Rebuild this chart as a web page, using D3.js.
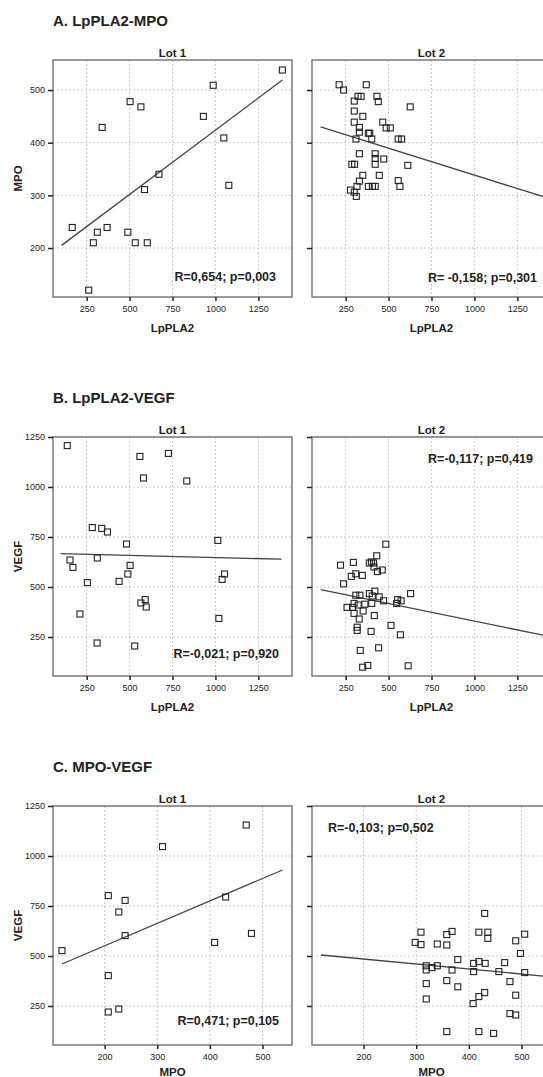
<!DOCTYPE html>
<html>
<head>
<meta charset="utf-8">
<script src="https://cdn.jsdelivr.net/npm/d3@7"></script>
<style>
body { margin: 0; background: #fff; }
svg text { font-family: "Liberation Sans", Arial, sans-serif; fill: #222; }
</style>
</head>
<body>
<script>
var g_width = 543
var g_height = 1077

// tick labels
var lpTicks = [250, 500, 750, 1000, 1250]
var mpoTicks = [200, 300, 400, 500]
var vegfTicks = [250, 500, 750, 1000, 1250]

// axis ranges
var lpRange = [54, 1446]
var mpoRangeY = [107, 557]
var mpoRangeX = [102, 556]
var vegfRange = [55, 1250]

var panelTitles = ["A. LpPLA2-MPO", "B. LpPLA2-VEGF", "C. MPO-VEGF"]
var lotNames = ["Lot 1", "Lot 2"]
var xTitles = ["LpPLA2", "LpPLA2", "MPO"]
var yTitles = ["MPO", "VEGF", "VEGF"]

var statsA = ["R=0,654; p=0,003", "R= -0,158; p=0,301"]
var statsB = ["R=-0,021; p=0,920", "R=-0,117; p=0,419"]
var statsC = ["R=0,471; p=0,105", "R=-0,103; p=0,502"]

// A: LpPLA2 (x) vs MPO (y)
var a1 = [[166,239],[289,210],[312,230],[369,239],[340,429],[503,478],[566,468],[490,230],
          [533,210],[603,210],[587,311],[671,340],[930,450],[987,509],[1049,409],[1078,319],
          [262,120],[1390,538]]
var a2 = [[212,510],[238,500],[370,510],[322,488],[340,488],[300,479],[432,488],[440,478],
          [626,468],[300,460],[350,450],[300,439],[330,429],[466,439],[486,428],[510,428],
          [330,420],[382,418],[390,418],[310,407],[402,407],[556,407],[576,407],[330,379],
          [422,379],[422,370],[472,369],[422,359],[286,359],[302,359],[612,357],[350,338],
          [446,338],[330,327],[556,328],[316,317],[566,317],[382,317],[406,317],[422,317],
          [278,310],[300,306],[312,298]]

// B: LpPLA2 (x) vs VEGF (y)
var b1 = [[137,1207],[153,635],[170,598],[254,522],[211,365],[283,797],[338,793],[371,775],
          [312,645],[482,715],[503,608],[490,565],[439,528],[560,1153],[581,1045],[726,1168],
          [833,1030],[566,420],[591,437],[597,400],[1014,733],[1053,565],[1039,538],[1020,343],
          [311,220],[530,205]]
var b2 = [[484,714],[431,656],[220,609],[295,623],[388,620],[412,620],[400,625],[415,600],
          [435,577],[463,585],[283,553],[309,566],[347,558],[238,516],[309,459],[333,459],
          [388,467],[420,479],[405,455],[445,451],[471,431],[553,437],[573,431],[547,418],
          [628,467],[299,418],[258,398],[290,398],[323,410],[362,414],[402,418],[352,380],
          [299,368],[329,340],[417,357],[514,308],[317,299],[317,283],[398,278],[569,261],
          [335,183],[442,196],[349,99],[379,108],[614,106]]

// C: MPO (x) vs VEGF (y)
var c1 = [[119,527],[207,802],[239,778],[227,720],[239,602],[207,402],[207,220],[227,235],
          [310,1047],[469,1155],[430,795],[409,568],[479,613]]
var c2 = [[430,713],[309,619],[358,607],[368,623],[419,619],[436,619],[436,588],[506,609],
          [489,576],[298,568],[309,557],[340,560],[358,555],[498,513],[379,482],[409,463],
          [419,472],[431,463],[468,467],[319,451],[319,430],[330,442],[340,451],[368,430],
          [409,422],[457,422],[506,417],[319,362],[358,377],[379,346],[478,372],[489,304],
          [430,317],[419,297],[319,285],[358,122],[419,122],[447,113],[408,262],[489,205],
          [478,212]]

// fit lines, end points in data units
var fitA = [[[104,205],[1390,519]], [[104,430],[1446,293]]]
var fitB = [[[98,667],[1385,639]], [[105,487],[1446,251]]]
var fitC = [[[119,460],[538,930]], [[119,505],[556,396]]]

var svg = d3.select("body").append("svg")
    .attr("width", g_width)
    .attr("height", g_height)
    .style("background-color", "white");

var lotX = [53, 312]
var plotW = 239

// layout of each panel row
var panels = [
  { top: 60, h: 237, titleY: 26, xTitleDy: 35, xDom: lpRange, yDom: mpoRangeY, xTicks: lpTicks, yTicks: mpoTicks,
    lots: [a1, a2], fits: fitA, stats: statsA,
    statPos: [{anchor: "end", dx: 223, fromBottom: true, dy: 16}, {anchor: "end", dx: 225, fromBottom: true, dy: 15}] },
  { top: 437, h: 239, titleY: 403, xTitleDy: 35, xDom: lpRange, yDom: vegfRange, xTicks: lpTicks, yTicks: vegfTicks,
    lots: [b1, b2], fits: fitB, stats: statsB,
    statPos: [{anchor: "end", dx: 226, fromBottom: true, dy: 18}, {anchor: "end", dx: 221, fromBottom: false, dy: 26}] },
  { top: 806, h: 239, titleY: 772, xTitleDy: 31, xDom: mpoRangeX, yDom: vegfRange, xTicks: mpoTicks, yTicks: vegfTicks,
    lots: [c1, c2], fits: fitC, stats: statsC,
    statPos: [{anchor: "end", dx: 226, fromBottom: true, dy: 20}, {anchor: "start", dx: 16, fromBottom: false, dy: 26}] }
]

panels.forEach(function(p, pi) {
    svg.append("text")
        .attr("x", 53).attr("y", p.titleY)
        .style("font-size", "15px").style("font-weight", "bold")
        .text(panelTitles[pi]);

    var bottom = p.top + p.h;
    var yScale = d3.scaleLinear().domain(p.yDom).range([bottom, p.top]);

    for (var li = 0; li < 2; li++) {
        var left = lotX[li];
        var xScale = d3.scaleLinear().domain(p.xDom).range([left, left + plotW]);
        var g = svg.append("g");

        var clipId = "clip" + pi + "_" + li;
        svg.append("clipPath").attr("id", clipId)
            .append("rect").attr("x", left).attr("y", p.top).attr("width", plotW).attr("height", p.h);

        // grid
        g.selectAll(".gx").data(p.xTicks).enter().append("line")
            .attr("x1", function(d) { return xScale(d); }).attr("x2", function(d) { return xScale(d); })
            .attr("y1", p.top).attr("y2", bottom)
            .attr("stroke", "#c9c9c9").attr("stroke-dasharray", "2,2").attr("stroke-width", 1);
        g.selectAll(".gy").data(p.yTicks).enter().append("line")
            .attr("y1", function(d) { return yScale(d); }).attr("y2", function(d) { return yScale(d); })
            .attr("x1", left).attr("x2", left + plotW)
            .attr("stroke", "#c9c9c9").attr("stroke-dasharray", "2,2").attr("stroke-width", 1);

        // axes
        var xAxis = svg.append("g")
            .attr("transform", "translate(0," + bottom + ")")
            .call(d3.axisBottom(xScale).tickValues(p.xTicks).tickSize(4).tickPadding(5).tickFormat(d3.format("d")));
        var yAxis = svg.append("g")
            .attr("transform", "translate(" + left + ",0)")
            .call(d3.axisLeft(yScale).tickValues(p.yTicks).tickSize(5).tickPadding(3)
                .tickFormat(li == 0 ? d3.format("d") : function() { return ""; }));
        [xAxis, yAxis].forEach(function(ax) {
            ax.select(".domain").remove();
            ax.selectAll(".tick line").attr("stroke", "#222").attr("stroke-width", 1.5);
            ax.selectAll(".tick text").style("font-size", "9px").attr("fill", "#222");
        });

        // frame
        g.append("rect")
            .attr("x", left).attr("y", p.top).attr("width", plotW).attr("height", p.h)
            .attr("fill", "none").attr("stroke", "#7a7a7a").attr("stroke-width", 1.5);

        // fit line
        var f = p.fits[li];
        g.append("line")
            .attr("clip-path", "url(#" + clipId + ")")
            .attr("x1", xScale(f[0][0])).attr("y1", yScale(f[0][1]))
            .attr("x2", xScale(f[1][0])).attr("y2", yScale(f[1][1]))
            .attr("stroke", "#444").attr("stroke-width", 1.3);

        // points
        g.selectAll(".pt").data(p.lots[li]).enter().append("rect")
            .attr("x", function(d) { return xScale(d[0]) - 3; })
            .attr("y", function(d) { return yScale(d[1]) - 3; })
            .attr("width", 6).attr("height", 6)
            .attr("fill", "none").attr("stroke", "#222").attr("stroke-width", 1.1);

        // lot label
        svg.append("text")
            .attr("x", left + plotW / 2).attr("y", p.top - 3)
            .attr("text-anchor", "middle")
            .style("font-size", "11.5px").style("font-weight", "bold")
            .text(lotNames[li]);

        // x title
        svg.append("text")
            .attr("x", left + plotW / 2).attr("y", bottom + p.xTitleDy)
            .attr("text-anchor", "middle")
            .style("font-size", "11.5px").style("font-weight", "bold")
            .text(xTitles[pi]);

        // stats
        var sp = p.statPos[li];
        svg.append("text")
            .attr("x", left + sp.dx)
            .attr("y", sp.fromBottom ? bottom - sp.dy : p.top + sp.dy)
            .attr("text-anchor", sp.anchor)
            .style("font-size", "12.5px").style("font-weight", "bold")
            .text(p.stats[li]);
    }

    // y title
    svg.append("text")
        .attr("transform", "translate(22," + (p.top + p.h / 2) + ") rotate(-90)")
        .attr("text-anchor", "middle")
        .style("font-size", "11.5px").style("font-weight", "bold")
        .text(yTitles[pi]);
});
</script>
</body>
</html>
